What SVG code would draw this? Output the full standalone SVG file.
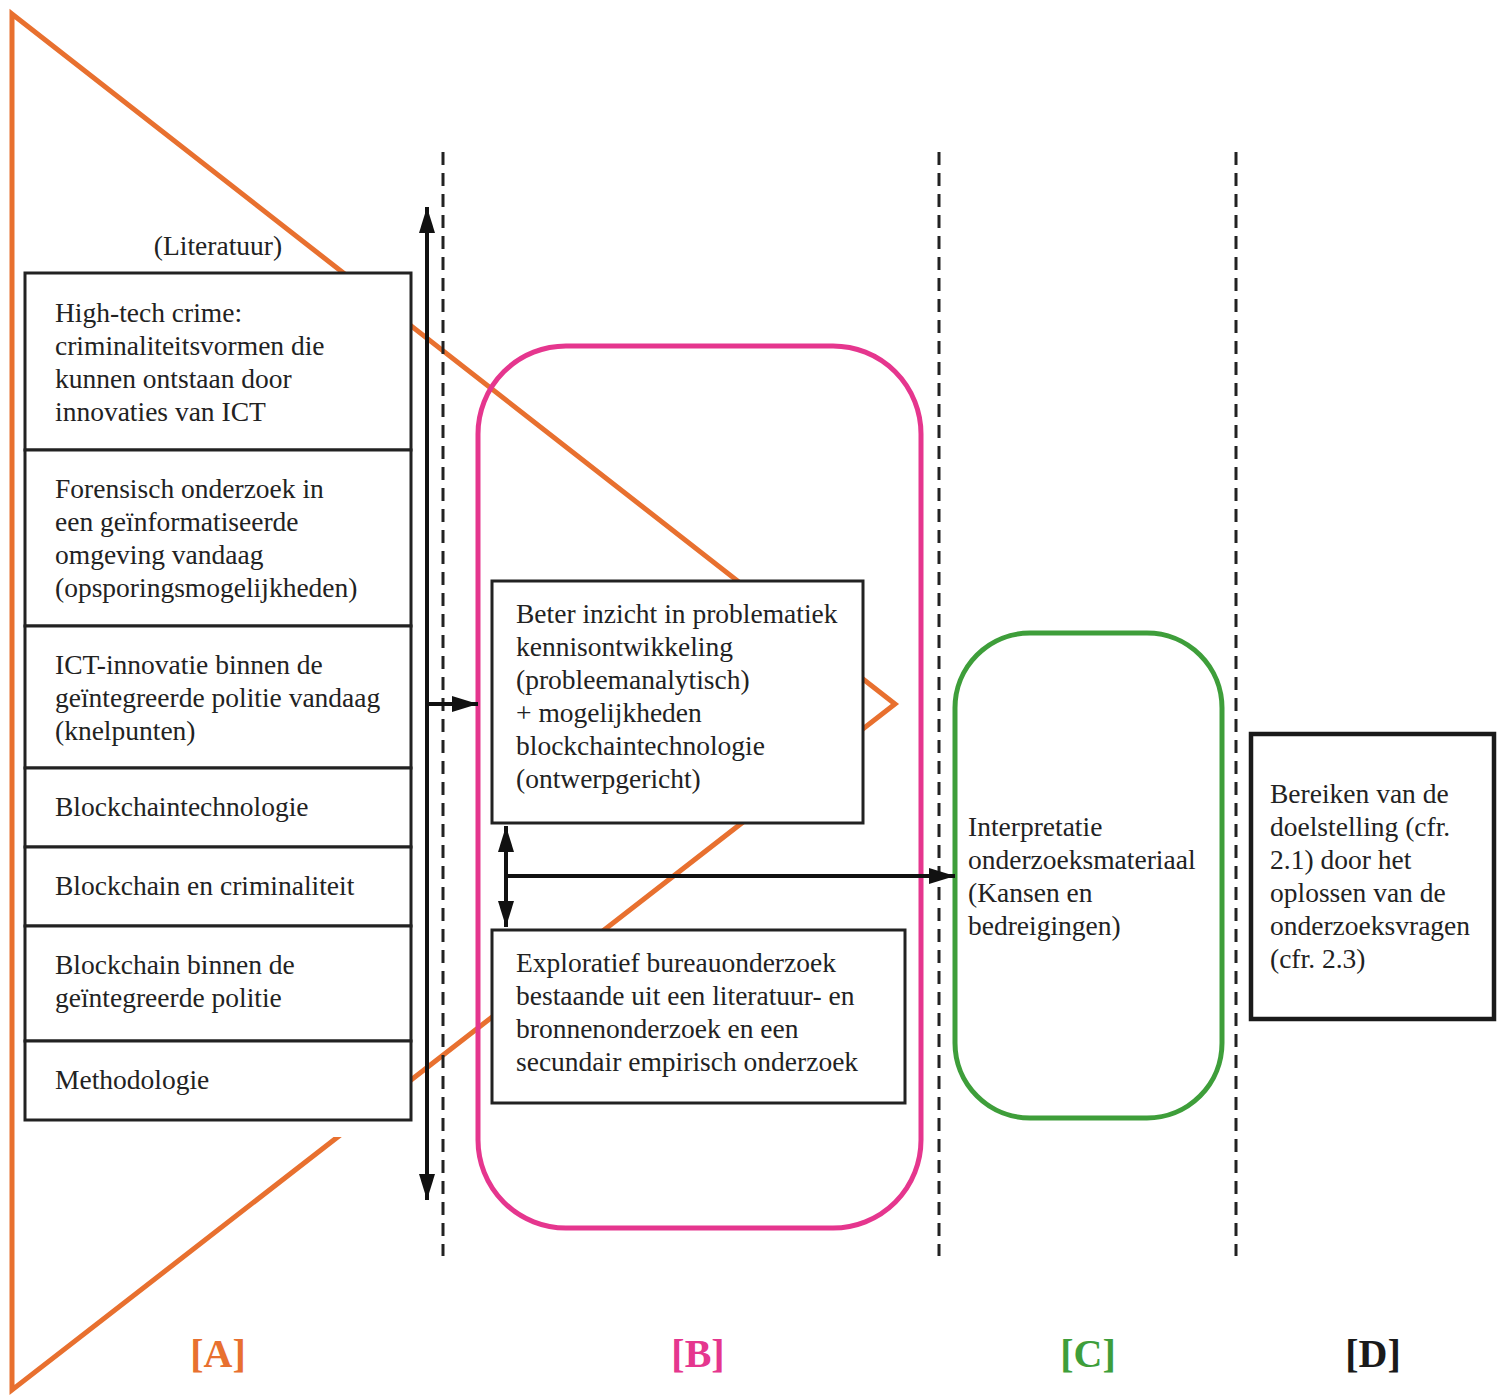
<svg xmlns="http://www.w3.org/2000/svg" width="1503" height="1396" viewBox="0 0 1503 1396">
<style>
text{font-family:"Liberation Serif","Times New Roman",serif;font-size:27.5px;fill:#222}
.box{fill:#fff;stroke:#222;stroke-width:3}
.lbl{font-size:40px;font-weight:bold;text-anchor:middle}
.dash{stroke:#222;stroke-width:3;stroke-dasharray:13 8;fill:none}
.conn{stroke:#111;stroke-width:4;fill:none}
</style>
<defs>
<marker id="ah" markerUnits="userSpaceOnUse" markerWidth="28" markerHeight="18" refX="26" refY="8" orient="auto-start-reverse">
<path d="M0,0 L26,8 L0,16 z" fill="#111"/>
</marker>
</defs>
<rect width="1503" height="1396" fill="#fff"/>

<g id="funnel">
<polygon points="12,14 895,704 12,1390" fill="none" stroke="#E8702F" stroke-width="5" stroke-linejoin="miter"/>
</g>

<g id="dividers">
<line class="dash" x1="443" y1="152" x2="443" y2="1256"/>
<line class="dash" x1="939" y1="152" x2="939" y2="1256"/>
<line class="dash" x1="1236" y1="152" x2="1236" y2="1256"/>
</g>

<g id="phaseA">
<rect x="25" y="273" width="386" height="864" fill="#fff"/>
<text x="218" y="255" text-anchor="middle">(Literatuur)</text>
<g id="a1"><rect class="box" x="25" y="273" width="386" height="177"/>
<text x="55" y="322">High-tech crime:</text><text x="55" y="355">criminaliteitsvormen die</text><text x="55" y="388">kunnen ontstaan door</text><text x="55" y="421">innovaties van ICT</text></g>
<g id="a2"><rect class="box" x="25" y="450" width="386" height="176"/>
<text x="55" y="498">Forensisch onderzoek in</text><text x="55" y="531">een geïnformatiseerde</text><text x="55" y="564">omgeving vandaag</text><text x="55" y="597">(opsporingsmogelijkheden)</text></g>
<g id="a3"><rect class="box" x="25" y="626" width="386" height="142"/>
<text x="55" y="674">ICT-innovatie binnen de</text><text x="55" y="707">geïntegreerde politie vandaag</text><text x="55" y="740">(knelpunten)</text></g>
<g id="a4"><rect class="box" x="25" y="768" width="386" height="79"/>
<text x="55" y="816">Blockchaintechnologie</text></g>
<g id="a5"><rect class="box" x="25" y="847" width="386" height="79"/>
<text x="55" y="895">Blockchain en criminaliteit</text></g>
<g id="a6"><rect class="box" x="25" y="926" width="386" height="115"/>
<text x="55" y="974">Blockchain binnen de</text><text x="55" y="1007">geïntegreerde politie</text></g>
<g id="a7"><rect class="box" x="25" y="1041" width="386" height="79"/>
<text x="55" y="1089">Methodologie</text></g>
</g>

<g id="phaseB">
<rect x="478" y="346" width="443" height="882" rx="88" ry="88" fill="none" stroke="#E5368E" stroke-width="5"/>
<g id="b1"><rect class="box" x="492" y="581" width="371" height="242"/>
<text x="516" y="623">Beter inzicht in problematiek</text><text x="516" y="656">kennisontwikkeling</text><text x="516" y="689">(probleemanalytisch)</text><text x="516" y="722">+ mogelijkheden</text><text x="516" y="755">blockchaintechnologie</text><text x="516" y="788">(ontwerpgericht)</text></g>
<g id="b2"><rect class="box" x="492" y="930" width="413" height="173"/>
<text x="516" y="972">Exploratief bureauonderzoek</text><text x="516" y="1005">bestaande uit een literatuur- en</text><text x="516" y="1038">bronnenonderzoek en een</text><text x="516" y="1071">secundair empirisch onderzoek</text></g>
</g>

<g id="phaseC">
<rect x="955" y="633" width="267" height="485" rx="75" ry="75" fill="none" stroke="#3E9E3A" stroke-width="5"/>
<text x="968" y="836">Interpretatie</text><text x="968" y="869">onderzoeksmateriaal</text><text x="968" y="902">(Kansen en</text><text x="968" y="935">bedreigingen)</text>
</g>

<g id="phaseD">
<rect x="1251" y="734" width="243" height="285" fill="#fff" stroke="#1a1a1a" stroke-width="4.5"/>
<text x="1270" y="803">Bereiken van de</text><text x="1270" y="836">doelstelling (cfr.</text><text x="1270" y="869">2.1) door het</text><text x="1270" y="902">oplossen van de</text><text x="1270" y="935">onderzoeksvragen</text><text x="1270" y="968">(cfr. 2.3)</text>
</g>

<g id="connectors">
<line class="conn" x1="427" y1="1200" x2="427" y2="207" marker-start="url(#ah)" marker-end="url(#ah)"/>
<line class="conn" x1="427" y1="704" x2="478" y2="704" marker-end="url(#ah)"/>
<line class="conn" x1="506" y1="927" x2="506" y2="826" marker-start="url(#ah)" marker-end="url(#ah)"/>
<line class="conn" x1="506" y1="876" x2="955" y2="876" marker-end="url(#ah)"/>
</g>

<g id="labels">
<text class="lbl" x="218" y="1367" fill="#E8702F" style="fill:#E8702F">[A]</text>
<text class="lbl" x="698" y="1367" style="fill:#E5368E">[B]</text>
<text class="lbl" x="1088" y="1367" style="fill:#3E9E3A">[C]</text>
<text class="lbl" x="1373" y="1367" style="fill:#1a1a1a">[D]</text>
</g>
</svg>
